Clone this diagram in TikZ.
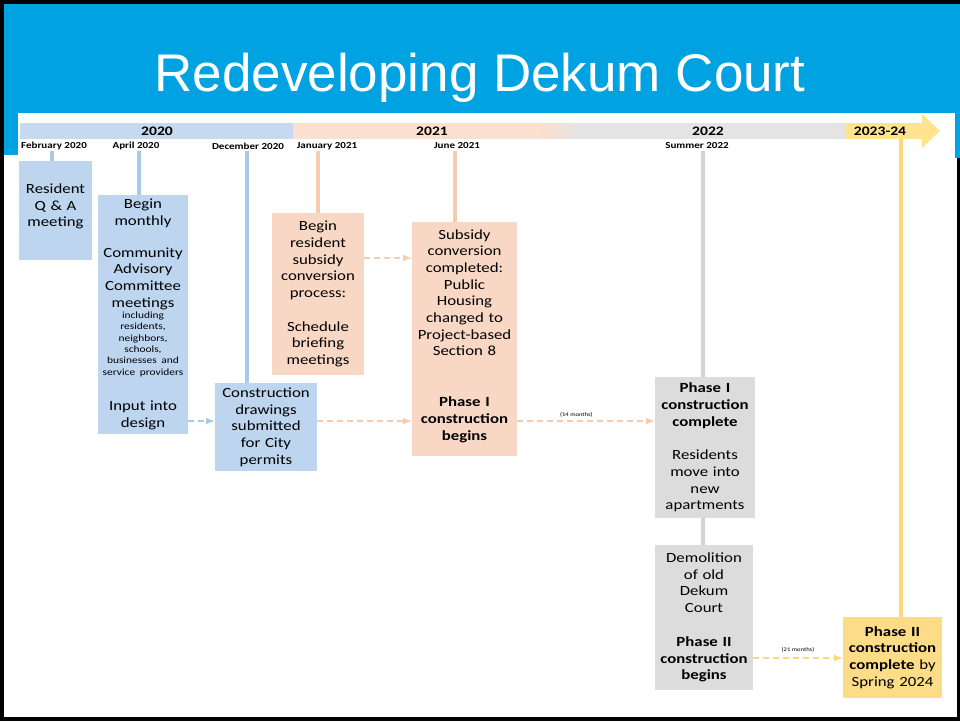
\documentclass[tikz,border=0pt]{standalone}
\usepackage{fontspec}
\setmainfont{Carlito}[FakeStretch=1.2]
\newfontfamily\titlefont{Liberation Sans}
\usepackage{xcolor}
\usepackage{tikz}
\usetikzlibrary{arrows, positioning, calc}
\setlength{\parindent}{0pt}

\definecolor{hdrblue}{HTML}{00A2E1}
\definecolor{boxblue}{HTML}{BDD5EE}
\definecolor{boxpeach}{HTML}{F8D8C4}
\definecolor{boxgray}{HTML}{DCDCDC}
\definecolor{boxyellow}{HTML}{FDDC87}
\definecolor{barblue}{HTML}{C5DAF0}
\definecolor{barpeach}{HTML}{FBDFCF}
\definecolor{bargray}{HTML}{E4E4E4}
\definecolor{baryellow}{HTML}{FFE38F}
\definecolor{lineblue}{HTML}{A9C9EA}
\definecolor{linepeach}{HTML}{F6CBAE}
\definecolor{linegray}{HTML}{D3D3D3}
\definecolor{lineyellow}{HTML}{FFD977}

\newcommand{\boxtext}{\fontsize{14}{16.7}\selectfont}
\newcommand{\smalltext}{\fontsize{9.5}{11.3}\selectfont}

\begin{document}
\begin{tikzpicture}[x=1pt, y=-1pt,
    box/.style={align=center, inner sep=2pt, font=\boxtext},
    yearlabel/.style={font=\fontsize{13}{15}\selectfont\bfseries},
    datelabel/.style={font=\fontsize{9.2}{11}\selectfont\bfseries},
    tick/.style={line width=3.5pt},
    dashlink/.style={line width=2pt, dash pattern=on 6pt off 4pt, -latex},
    months/.style={font=\fontsize{5.5}{6}\selectfont}]
      \useasboundingbox (0,0) rectangle (960,721);

      % frame and header
      \fill[black] (0,0) rectangle (960,721);
      \fill[white] (4,4) rectangle (957,717);
      \fill[hdrblue] (4,4) rectangle (960,113);
      \fill[hdrblue] (4,113) rectangle (18,155);
      \fill[hdrblue] (955,113) rectangle (960,158);
      \node[font=\titlefont\fontsize{53}{60}\selectfont, text=white, anchor=base] (title) at (480,91) {Redeveloping Dekum Court};

      % timeline bar
      \fill[barblue] (20,123) rectangle (293,139);
      \fill[barpeach] (293,123) rectangle (541,139);
      \foreach \i in {0,...,19}
        \fill[barpeach!\the\numexpr100-5*\i\relax!bargray] (540+2*\i,123) rectangle (542.5+2*\i,139);
      \fill[bargray] (579,123) rectangle (846,139);
      \fill[baryellow] (845,123) rectangle (922,139);
      \fill[baryellow] (922,114) -- (940,131) -- (922,148) -- cycle;

      \node[yearlabel] (y2020) at (157,131) {2020};
      \node[yearlabel] (y2021) at (432,131) {2021};
      \node[yearlabel] (y2022) at (708,131) {2022};
      \node[yearlabel] (y2023) at (880,131) {2023-24};

      \node[datelabel] (feb) at (54,146) {February 2020};
      \node[datelabel] (apr) at (136,146) {April 2020};
      \node[datelabel] (dec) at (248,146) {December 2020};
      \node[datelabel] (jan) at (327,146) {January 2021};
      \node[datelabel] (jun) at (457,146) {June 2021};
      \node[datelabel] (sum) at (697,146) {Summer 2022};

      % boxes
      \node[box, fill=boxblue, minimum height=99pt, text width=69pt] (qa) at (55.5,210.5)
        {Resident\\Q \& A\\meeting\\[-6pt]\mbox{}};
      \node[box, fill=boxblue, minimum height=239pt, text width=86pt] (cac) at (143,314.5)
        {Begin\\monthly\par\vspace{15pt}
         Community\\Advisory\\Committee\\meetings\par
         {\smalltext including\\residents,\\neighbors,\\schools,\\businesses and\\service providers\par}
         \vspace{19pt}Input into\\design};
      \node[box, fill=boxblue, minimum height=88pt, text width=98pt] (drawings) at (266,427)
        {Construction\\drawings\\submitted\\for City\\permits};
      \node[box, fill=boxpeach, minimum height=162pt, text width=88pt] (subsidy) at (318,294)
        {Begin\\resident\\subsidy\\conversion\\process:\\[17pt]Schedule\\briefing\\meetings};
      \node[box, fill=boxpeach, minimum height=234pt, text width=101pt] (conversion) at (464.5,339)
        {Subsidy\\conversion\\completed:\\Public\\Housing\\changed to\\Project-based\\Section 8\\[34pt]
         \textbf{Phase I\\construction\\begins}\\[-8pt]\mbox{}};
      \node[box, fill=boxgray, minimum height=141pt, text width=96pt] (phaseone) at (705,447.5)
        {\textbf{Phase I\\construction\\complete}\\[17pt]Residents\\move into\\new\\apartments};
      \node[box, fill=boxgray, minimum height=145pt, text width=94pt] (demolition) at (704,617.5)
        {Demolition\\of old\\Dekum\\Court\\[17pt]\textbf{Phase II\\construction\\begins}};
      \node[box, fill=boxyellow, minimum height=81pt, text width=95pt] (phasetwo) at (892.5,657.5)
        {\textbf{Phase II\\construction\\complete} by\\Spring 2024};

      % ticks from the dates
      \coordinate (febx) at (52,151);
      \coordinate (aprx) at (139,151);
      \coordinate (decx) at (247,151);
      \coordinate (janx) at (318,151);
      \coordinate (junx) at (455,151);
      \coordinate (sumx) at (703,151);
      \coordinate (endx) at (901,139);
      \draw[tick, lineblue] (febx) -- (febx |- qa.north);
      \draw[tick, lineblue] (aprx) -- (aprx |- cac.north);
      \draw[tick, lineblue] (decx) -- (decx |- drawings.north);
      \draw[tick, linepeach] (janx) -- (janx |- subsidy.north);
      \draw[tick, linepeach] (junx) -- (junx |- conversion.north);
      \draw[tick, linegray] (sumx) -- (sumx |- phaseone.north);
      \draw[tick, linegray] (phaseone.south -| sumx) -- (demolition.north -| sumx);
      \draw[tick, lineyellow] (endx) -- (endx |- phasetwo.north);

      % dashed links
      \coordinate (rowa) at (0,421);
      \coordinate (rowb) at (0,258);
      \coordinate (rowc) at (0,658);
      \draw[dashlink, lineblue] (cac.east |- rowa) -- (drawings.west |- rowa);
      \draw[dashlink, linepeach] (subsidy.east |- rowb) -- (conversion.west |- rowb);
      \draw[dashlink, linepeach] (drawings.east |- rowa) -- (conversion.west |- rowa);
      \draw[dashlink, linepeach] (conversion.east |- rowa) -- (phaseone.west |- rowa)
        node[pos=.43, above=-1pt, months, text=black] {(14 months)};
      \draw[dashlink, lineyellow] (demolition.east |- rowc) -- (phasetwo.west |- rowc)
        node[pos=.5, above=1pt, months, text=black] {(21 months)};

    \end{tikzpicture}
\end{document}
